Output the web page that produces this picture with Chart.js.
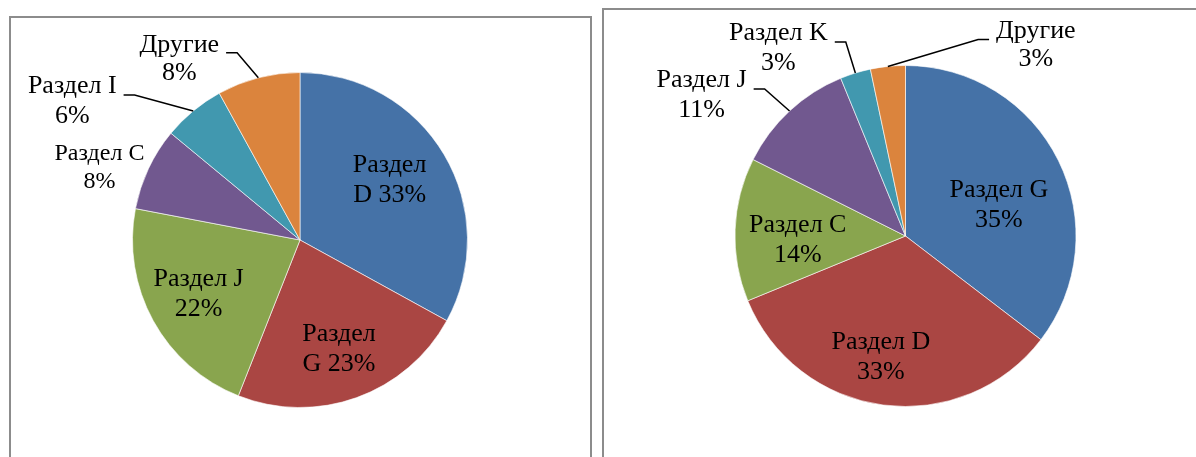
<!DOCTYPE html>
<html>
<head>
<meta charset="utf-8">
<script src="https://cdn.jsdelivr.net/npm/chart.js@4.4.0/dist/chart.umd.min.js"></script>
<style>
  body { margin: 0; background: #fff; width: 1196px; height: 457px; overflow: hidden; position: relative; }
  .box { position: absolute; border: 2px solid #8c8c8c; box-sizing: border-box; }
  canvas { position: absolute; left: 0; top: 0; }
</style>
</head>
<body>
<div class="box" style="left:9px; top:16px; width:583px; height:460px;"></div>
<div class="box" style="left:602px; top:8px; width:620px; height:470px;"></div>
<canvas id="leftChart" width="1196" height="457"></canvas>
<canvas id="rightChart" width="1196" height="457"></canvas>
<script>
// left pie
var leftLabels = ['Раздел D', 'Раздел G', 'Раздел J', 'Раздел C', 'Раздел I', 'Другие'];
var leftValues = [33, 23, 22, 8, 6, 8];

// right pie
var rightLabels = ['Раздел G', 'Раздел D', 'Раздел C', 'Раздел J', 'Раздел K', 'Другие'];
var rightValues = [35.4, 33.4, 13.6, 11.4, 2.9, 3.3];

var colors = ['#4572A7', '#AA4643', '#89A54E', '#71588F', '#4198AF', '#DB843D'];

// where each label sits (inside: fraction of radius, outside: offset from arc edge)
var leftLayout = [
    { inside: true, r: 0.67, dx: -7, dy: -3, split: 'word' },
    { inside: true, r: 0.67, dx: 1, dy: 4, split: 'word' },
    { inside: true, r: 0.67, dx: -3, dy: 0 },
    { inside: false, dx: -49, dy: -1, size: 24, lh: 28 },
    { inside: false, dx: -121, dy: -10, leader: true },
    { inside: false, dx: -79, dy: -19, leader: true, lh: 28 }
];
var rightLayout = [
    { inside: true, r: 0.65, dx: -6, dy: 18 },
    { inside: true, r: 0.65, dx: -10, dy: 11 },
    { inside: true, r: 0.65, dx: 3, dy: 8 },
    { inside: false, dx: -88, dy: -16, leader: true },
    { inside: false, dx: -77, dy: -25, leader: true },
    { inside: false, dx: 148, dy: -21, leader: true, lh: 28 }
];

var sliceLabels = {
    id: 'sliceLabels',
    afterDatasetsDraw: function(chart, args, opts) {
        var ctx = chart.ctx;
        var meta = chart.getDatasetMeta(0);
        var ds = chart.data.datasets[0];
        var total = ds.data.reduce(function(a, b) { return a + b; }, 0);
        ctx.save();
        ctx.fillStyle = '#000';
        ctx.strokeStyle = '#000';
        ctx.lineWidth = 1.5;
        ctx.textAlign = 'center';
        ctx.textBaseline = 'middle';
        meta.data.forEach(function(arc, i) {
            var p = arc.getProps(['x', 'y', 'startAngle', 'endAngle', 'outerRadius'], true);
            var mid = (p.startAngle + p.endAngle) / 2;
            var lay = opts.layout[i];
            var size = lay.size || opts.fontSize;
            var lh = lay.lh || opts.lineHeight;
            ctx.font = size + 'px "Liberation Serif", "Times New Roman", serif';
            var pct = Math.round(ds.data[i] / total * 100) + '%';
            var name = chart.data.labels[i];
            var lines;
            if (lay.split === 'word') {
                var parts = name.split(' ');
                lines = [parts[0], parts[1] + ' ' + pct];
            } else {
                lines = [name, pct];
            }
            var cx, cy;
            if (lay.inside) {
                cx = p.x + Math.cos(mid) * p.outerRadius * lay.r + lay.dx;
                cy = p.y + Math.sin(mid) * p.outerRadius * lay.r + lay.dy;
            } else {
                var ex = p.x + Math.cos(mid) * p.outerRadius;
                var ey = p.y + Math.sin(mid) * p.outerRadius;
                cx = ex + lay.dx;
                cy = ey + lay.dy;
                if (lay.leader) {
                    var w = Math.max.apply(null, lines.map(function(l) { return ctx.measureText(l).width; }));
                    var side = lay.dx < 0 ? 1 : -1;
                    var hx1 = cx + side * (w / 2 + 7);
                    var hx2 = hx1 + side * 11;
                    var hy = cy - 6;
                    ctx.beginPath();
                    ctx.moveTo(hx1, hy);
                    ctx.lineTo(hx2, hy);
                    ctx.lineTo(ex, ey);
                    ctx.stroke();
                }
            }
            lines.forEach(function(l, k) {
                ctx.fillText(l, cx, cy + (k - (lines.length - 1) / 2) * lh);
            });
        });
        ctx.restore();
    }
};

function makePie(id, labels, values, layout, padding) {
    var ctx = document.getElementById(id).getContext('2d');
    return new Chart(ctx, {
        type: 'pie',
        data: {
            labels: labels,
            datasets: [{
                data: values,
                backgroundColor: colors,
                borderColor: 'rgba(255,255,255,0.6)',
                borderWidth: 1
            }]
        },
        options: {
            responsive: false,
            animation: false,
            layout: { padding: padding },
            plugins: {
                legend: { display: false },
                tooltip: { enabled: false },
                sliceLabels: { layout: layout, fontSize: 26, lineHeight: 30 }
            }
        },
        plugins: [sliceLabels]
    });
}

makePie('leftChart', leftLabels, leftValues, leftLayout, { left: 132, right: 728, top: 72, bottom: 49 });
makePie('rightChart', rightLabels, rightValues, rightLayout, { left: 734, right: 119, top: 65, bottom: 50 });
</script>
</body>
</html>
